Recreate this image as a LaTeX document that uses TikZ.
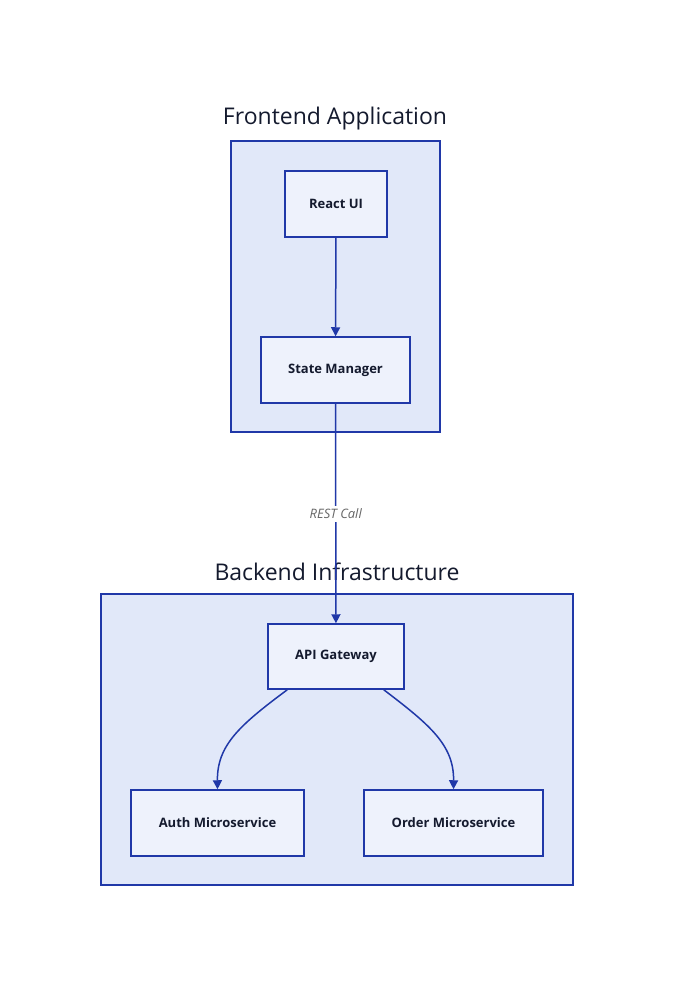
\documentclass[tikz,border=0pt]{standalone}
\usepackage{fontspec}
\setmainfont{Open Sans}
\usetikzlibrary{arrows.meta}
\definecolor{edge}{HTML}{2038A8}
\definecolor{clfill}{HTML}{E1E8F9}
\definecolor{ndfill}{HTML}{EEF2FC}
\definecolor{txt}{HTML}{141a2e}
\tikzset{
 cluster/.style={draw=edge,fill=clfill,line width=1.5pt},
 box/.style={draw=edge,fill=ndfill,line width=1.5pt,font=\fontsize{13}{15}\selectfont\bfseries,text=txt},
 title/.style={font=\fontsize{23}{27}\selectfont,text=txt},
 conn/.style={draw=edge,line width=1.5pt,-{Triangle[length=9pt,width=9pt]}}
}
\begin{document}
\begin{tikzpicture}[x=1pt,y=-1pt]
\useasboundingbox[fill=white] (0,0) rectangle (674,987);
\draw[cluster] (231,141) rectangle (440,432);
\node[title] (ft) at (335,119) {Frontend Application};
\draw[cluster] (101,594) rectangle (573,885);
\node[title] (bt) at (337,572) {Backend Infrastructure};
\node[box,minimum width=102pt,minimum height=66pt] (react) at (336,204) {React UI};
\node[box,minimum width=149pt,minimum height=66pt] (state) at (335.5,370) {State Manager};
\node[box,minimum width=136pt,minimum height=65pt] (api) at (336,656.5) {API Gateway};
\node[box,minimum width=173pt,minimum height=66pt] (auth) at (217.5,823) {Auth Microservice};
\node[box,minimum width=179pt,minimum height=66pt] (order) at (453.5,823) {Order Microservice};
\draw[conn] (react) -- (state);
\draw[conn] (state) -- node[fill=white,inner sep=3pt,font=\fontsize{13}{15}\selectfont\itshape,text=black!60] (lbl) {REST Call} (api);
\draw[conn] (api.south west)++(20,0) coordinate (a1) (a1) .. controls (240,725) and (217,745) .. (auth.north);
\draw[conn] (api.south east)++(-21,0) coordinate (a2) (a2) .. controls (430,725) and (454,745) .. (order.north);
\end{tikzpicture}
\end{document}
